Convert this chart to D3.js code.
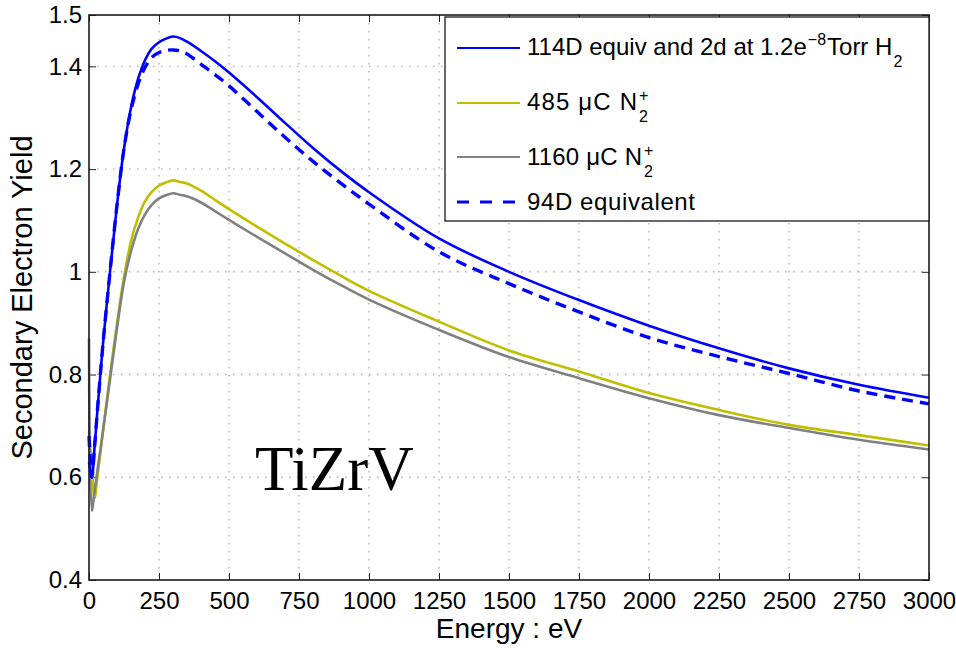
<!DOCTYPE html>
<html>
<head>
<meta charset="utf-8">
<script src="https://cdn.jsdelivr.net/npm/d3@7/dist/d3.min.js"></script>
<style>
  html, body { margin: 0; padding: 0; background: #fff; }
  svg { display: block; }
  text { font-family: "Liberation Sans", Arial, Helvetica, sans-serif; fill: #000; }
</style>
</head>
<body>
<svg id="chart" width="956" height="648"></svg>
<script>
// Beam energy (eV) at which the yield was sampled
const energy = [0, 10, 20, 30, 50, 75, 100, 125, 150, 175, 200, 225, 250, 275, 300, 325, 350,
  400, 450, 500, 600, 700, 800, 900, 1000, 1250, 1500, 1750, 2000, 2250, 2500, 2750, 3000];

// Secondary electron yield for each condition
const yield114D = [0.63, 0.60, 0.66, 0.73, 0.86, 1.00, 1.13, 1.24, 1.32, 1.375, 1.412, 1.435, 1.447, 1.454, 1.458, 1.455, 1.448,
  1.430, 1.410, 1.388, 1.340, 1.290, 1.241, 1.196, 1.155, 1.065, 1.0, 0.945, 0.895, 0.851, 0.812, 0.780, 0.755];
const yield485 = [0.69, 0.62, 0.56, 0.60, 0.69, 0.80, 0.90, 0.99, 1.06, 1.105, 1.137, 1.156, 1.168, 1.174, 1.178, 1.175, 1.172,
  1.158, 1.140, 1.122, 1.088, 1.055, 1.023, 0.992, 0.963, 0.903, 0.847, 0.806, 0.764, 0.731, 0.702, 0.682, 0.662];
const yield1160 = [0.87, 0.535, 0.574, 0.613, 0.69, 0.79, 0.89, 0.98, 1.04, 1.083, 1.112, 1.131, 1.143, 1.149, 1.153, 1.150, 1.147,
  1.135, 1.118, 1.101, 1.068, 1.036, 1.004, 0.974, 0.946, 0.887, 0.834, 0.793, 0.754, 0.721, 0.696, 0.673, 0.654];
const yield94D = [0.68, 0.60, 0.66, 0.73, 0.86, 1.00, 1.13, 1.24, 1.315, 1.365, 1.398, 1.418, 1.427, 1.431, 1.432, 1.430, 1.424,
  1.404, 1.384, 1.362, 1.312, 1.262, 1.215, 1.172, 1.132, 1.039, 0.977, 0.922, 0.872, 0.835, 0.802, 0.768, 0.743];

const xTicks = [0, 250, 500, 750, 1000, 1250, 1500, 1750, 2000, 2250, 2500, 2750, 3000];
const yTicks = [0.4, 0.6, 0.8, 1.0, 1.2, 1.4, 1.5];
const yTickLabels = ["0.4", "0.6", "0.8", "1", "1.2", "1.4", "1.5"];

const svg = d3.select("#chart");
const plotL = 89, plotR = 929, plotT = 15, plotB = 580;

const x = d3.scaleLinear().domain([0, 3000]).range([plotL, plotR]);
const y = d3.scaleLinear().domain([0.4, 1.5]).range([plotB, plotT]);

svg.append("rect").attr("width", 956).attr("height", 648).attr("fill", "#fff");

// dotted grid
const grid = svg.append("g").attr("stroke", "#b0b0b0").attr("stroke-width", 1.4)
  .attr("stroke-dasharray", "1.5,6.5");
grid.selectAll("line.v").data(xTicks.slice(1, -1)).join("line").attr("class", "v")
  .attr("x1", d => x(d)).attr("x2", d => x(d)).attr("y1", plotT).attr("y2", plotB);
grid.selectAll("line.h").data(yTicks.slice(1, -1)).join("line").attr("class", "h")
  .attr("x1", plotL).attr("x2", plotR).attr("y1", d => y(d)).attr("y2", d => y(d));

// axes with inward ticks
const fontTick = "24px";
const axB = svg.append("g").attr("transform", `translate(0,${plotB})`)
  .call(d3.axisBottom(x).tickValues(xTicks).tickFormat(d3.format("d"))
    .tickSizeInner(-7).tickSizeOuter(0).tickPadding(12));
const axL = svg.append("g").attr("transform", `translate(${plotL},0)`)
  .call(d3.axisLeft(y).tickValues(yTicks).tickFormat((d, i) => yTickLabels[i])
    .tickSizeInner(-7).tickSizeOuter(0).tickPadding(7));
const axT = svg.append("g").attr("transform", `translate(0,${plotT})`)
  .call(d3.axisTop(x).tickValues(xTicks).tickFormat("").tickSizeInner(-7).tickSizeOuter(0));
const axR = svg.append("g").attr("transform", `translate(${plotR},0)`)
  .call(d3.axisRight(y).tickValues(yTicks).tickFormat("").tickSizeInner(-7).tickSizeOuter(0));
[axB, axL, axT, axR].forEach(g => {
  g.select(".domain").remove();
  g.selectAll("line").attr("stroke", "#222").attr("stroke-width", 1);
  g.selectAll("text").style("font-size", fontTick)
    .style("font-family", '"Liberation Sans", Arial, sans-serif').attr("fill", "#000");
});

// curves
const line = d3.line().curve(d3.curveCatmullRom.alpha(0.5));
const series = [
  { vals: yield485, color: "#bfbf00", width: 2.6, dash: null },
  { vals: yield1160, color: "#808080", width: 2.6, dash: null },
  { vals: yield114D, color: "#0000ff", width: 2.6, dash: null },
  { vals: yield94D, color: "#0000ff", width: 3.4, dash: "11,7" }
];
const plot = svg.append("g");
series.forEach(s => {
  plot.append("path")
    .attr("d", line(energy.map((e, i) => [x(e), y(s.vals[i])])))
    .attr("fill", "none").attr("stroke", s.color).attr("stroke-width", s.width)
    .attr("stroke-linejoin", "round")
    .attr("stroke-dasharray", s.dash);
});

// frame
svg.append("rect").attr("x", plotL).attr("y", plotT).attr("width", plotR - plotL).attr("height", plotB - plotT)
  .attr("fill", "none").attr("stroke", "#1a1a1a").attr("stroke-width", 1.6);

// material label
svg.append("text").attr("x", 255).attr("y", 490)
  .style("font-family", '"Liberation Serif", "Times New Roman", serif').style("font-size", "63px")
  .text("TiZrV");

// axis titles
svg.append("text").attr("x", (plotL + plotR) / 2).attr("y", 638).attr("text-anchor", "middle")
  .style("font-size", "28px").text("Energy : eV");
svg.append("text").attr("transform", `translate(32,${(plotT + plotB) / 2}) rotate(-90)`)
  .attr("text-anchor", "middle").style("font-size", "29px").text("Secondary Electron Yield");

// legend
const leg = svg.append("g");
leg.append("rect").attr("x", 445).attr("y", 17).attr("width", 484).attr("height", 204)
  .attr("fill", "#fff").attr("stroke", "#1a1a1a").attr("stroke-width", 1.3);

const legRows = [
  { ly: 48, base: 55, color: "#0000ff", width: 2.2, dash: null },
  { ly: 103, base: 110, color: "#bfbf00", width: 2.2, dash: null },
  { ly: 157, base: 165, color: "#808080", width: 2.2, dash: null },
  { ly: 202, base: 210, color: "#0000ff", width: 3.2, dash: "12,11" }
];
legRows.forEach(r => {
  leg.append("line").attr("x1", 457).attr("x2", 520).attr("y1", r.ly).attr("y2", r.ly)
    .attr("stroke", r.color).attr("stroke-width", r.width).attr("stroke-dasharray", r.dash);
});

const tx = 527, fs = "24px", fsSmall = "16px";
function legText(xp, yp, str, size, len) {
  const t = leg.append("text").attr("x", xp).attr("y", yp).style("font-size", size).text(str);
  if (len) t.attr("textLength", len).attr("lengthAdjust", "spacing");
  return t;
}
// row 1: 114D equiv and 2d at 1.2e^-8 Torr H_2, pieces laid out one after another
{
  const b = legRows[0].base;
  let cx = tx;
  const a = legText(cx, b, "114D equiv and 2d at 1.2e", fs);
  cx += a.node().getComputedTextLength() + 1;
  const s = legText(cx, b - 10, "\u22128", fsSmall);
  cx += s.node().getComputedTextLength() + 1;
  const t = legText(cx, b, "Torr H", fs);
  cx += t.node().getComputedTextLength() + 1;
  legText(cx, b + 12, "2", fsSmall);
}

// rows 2 and 3: N with stacked charge and subscript
function ionLabel(row, prefix, len) {
  legText(tx, row.base, prefix + " \u03bcC N", fs, len);
  legText(tx + len + 2, row.base - 9, "+", fsSmall);
  legText(tx + len + 2, row.base + 12, "2", fsSmall);
}
ionLabel(legRows[1], "485", 110);
ionLabel(legRows[2], "1160", 115);

legText(tx, legRows[3].base, "94D equivalent", fs, 168);
</script>
</body>
</html>
